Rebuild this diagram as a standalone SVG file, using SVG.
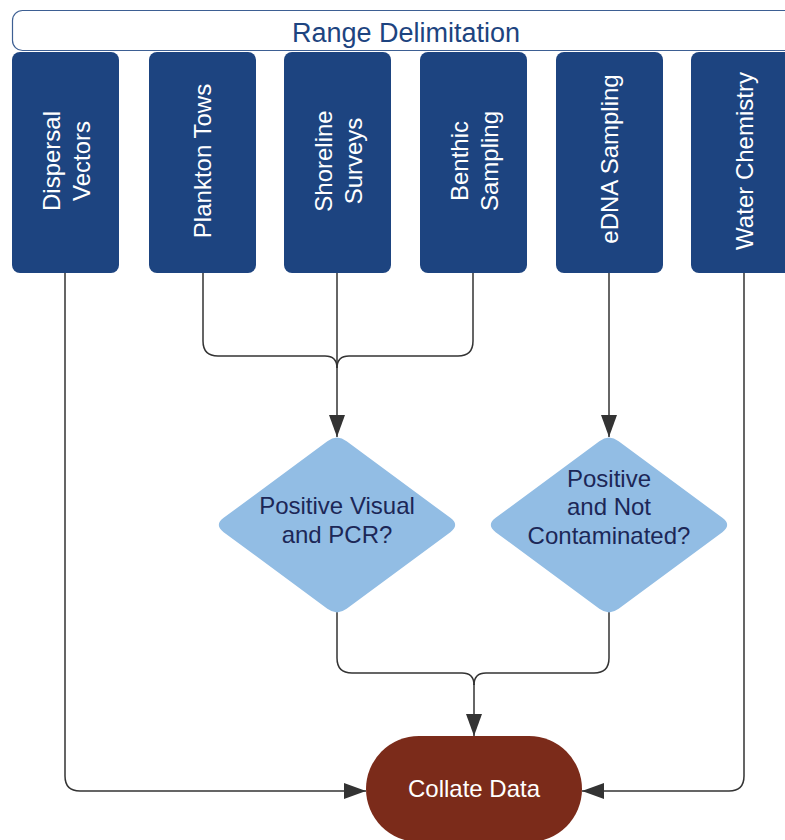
<svg xmlns="http://www.w3.org/2000/svg" width="785" height="840" viewBox="0 0 785 840">
<defs>
<style>
.box{fill:#1d4480;}
.bt{font-family:"Liberation Sans",Arial,sans-serif;font-size:24px;fill:#ffffff;text-anchor:middle;dominant-baseline:central;}
.dia{fill:#92bde4;}
.dt{font-family:"Liberation Sans",Arial,sans-serif;font-size:24px;fill:#1c2757;text-anchor:middle;dominant-baseline:central;}
.ln{fill:none;stroke:#333333;stroke-width:1.5;}
</style>
<marker id="ah" markerUnits="userSpaceOnUse" markerWidth="22" markerHeight="16" refX="22" refY="8" orient="auto">
<path d="M0,0 L22,8 L0,16 Z" fill="#333333"/>
</marker>
</defs>
<rect width="785" height="840" fill="#ffffff"/>
<g id="header">
<rect x="12.5" y="10.5" width="800" height="40" rx="10" fill="#ffffff" stroke="#3d5f93" stroke-width="1.2"/>
<text x="406" y="33" font-family="Liberation Sans,Arial,sans-serif" font-size="27" fill="#1d4480" text-anchor="middle" dominant-baseline="central">Range Delimitation</text>
</g>
<g id="dispersal">
<rect class="box" x="12" y="52" width="107" height="221" rx="8"/>
<text class="bt" transform="translate(65.5,161) rotate(-90)"><tspan x="0" y="-15">Dispersal</tspan><tspan x="0" y="15">Vectors</tspan></text>
</g>
<g id="plankton">
<rect class="box" x="149" y="52" width="107" height="221" rx="8"/>
<text class="bt" transform="translate(202.5,161) rotate(-90)">Plankton Tows</text>
</g>
<g id="shoreline">
<rect class="box" x="284" y="52" width="107" height="221" rx="8"/>
<text class="bt" transform="translate(337.5,161) rotate(-90)"><tspan x="0" y="-15">Shoreline</tspan><tspan x="0" y="15">Surveys</tspan></text>
</g>
<g id="benthic">
<rect class="box" x="420" y="52" width="107" height="221" rx="8"/>
<text class="bt" transform="translate(473.5,161) rotate(-90)"><tspan x="0" y="-15">Benthic</tspan><tspan x="0" y="15">Sampling</tspan></text>
</g>
<g id="edna">
<rect class="box" x="556" y="52" width="107" height="221" rx="8"/>
<text class="bt" transform="translate(609.5,159) rotate(-90)">eDNA Sampling</text>
</g>
<g id="water">
<rect class="box" x="691" y="52" width="107" height="221" rx="8"/>
<text class="bt" transform="translate(744.5,161) rotate(-90)">Water Chemistry</text>
</g>
<g id="connectors">
<path class="ln" d="M203,273 V341 Q203,356 218,356 H325 Q337,356 337,368"/>
<path class="ln" d="M473,273 V341 Q473,356 458,356 H349 Q337,356 337,368"/>
<path class="ln" d="M337,273 V437" marker-end="url(#ah)"/>
<path class="ln" d="M609,273 V437" marker-end="url(#ah)"/>
<path class="ln" d="M337,612 V658 Q337,673 352,673 H462 Q474,673 474,685"/>
<path class="ln" d="M609,612 V658 Q609,673 594,673 H486 Q474,673 474,685"/>
<path class="ln" d="M474,684 V736" marker-end="url(#ah)"/>
<path class="ln" d="M65,273 V776 Q65,791 80,791 H366" marker-end="url(#ah)"/>
<path class="ln" d="M744,273 V776 Q744,791 729,791 H582" marker-end="url(#ah)"/>
</g>
<g id="visual">
<path class="dia" d="M327.35,441.14 Q337,434 346.65,441.14 L450.35,517.86 Q460,525 450.35,532.14 L346.65,608.86 Q337,616 327.35,608.86 L223.65,532.14 Q214,525 223.65,517.86 Z"/>
<text class="dt"><tspan x="337" y="505">Positive Visual</tspan><tspan x="337" y="534">and PCR?</tspan></text>
</g>
<g id="contam">
<path class="dia" d="M599.35,441.14 Q609,434 618.65,441.14 L722.35,517.86 Q732,525 722.35,532.14 L618.65,608.86 Q609,616 599.35,608.86 L495.65,532.14 Q486,525 495.65,517.86 Z"/>
<text class="dt"><tspan x="609" y="478">Positive</tspan><tspan x="609" y="506">and Not</tspan><tspan x="609" y="535">Contaminated?</tspan></text>
</g>
<g id="collate">
<rect x="366" y="736" width="216" height="106" rx="53" fill="#7b2b1a"/>
<text x="474" y="788" font-family="Liberation Sans,Arial,sans-serif" font-size="24" fill="#ffffff" text-anchor="middle" dominant-baseline="central">Collate Data</text>
</g>
</svg>
